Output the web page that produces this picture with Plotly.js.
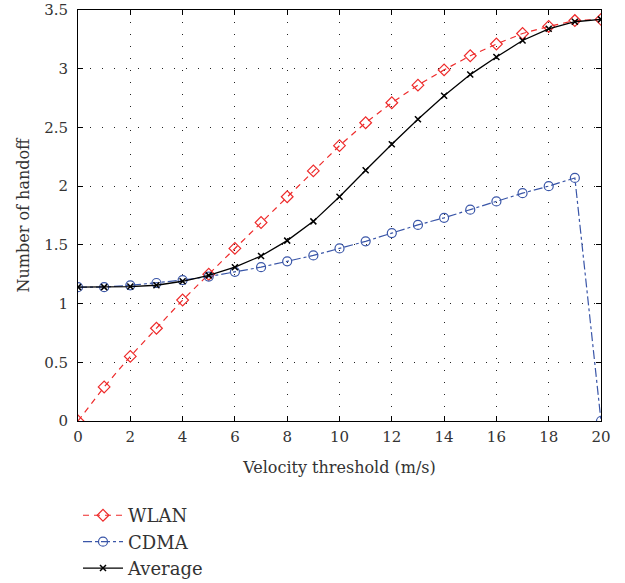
<!DOCTYPE html>
<html>
<head>
<meta charset="utf-8">
<script src="https://cdn.plot.ly/plotly-3.0.1.min.js"></script>
<style>body{margin:0;background:#fff}</style>
</head>
<body>
<div id="chart" style="width:625px;height:583px"></div>
<script>
const velocity = [0,1,2,3,4,5,6,7,8,9,10,11,12,13,14,15,16,17,18,19,20];
const wlan = [0,0.29,0.55,0.79,1.03,1.25,1.47,1.69,1.91,2.13,2.345,2.54,2.71,2.86,2.99,3.11,3.21,3.30,3.36,3.41,3.42];
const cdma = [1.14,1.14,1.155,1.175,1.20,1.23,1.27,1.31,1.36,1.41,1.47,1.53,1.60,1.67,1.73,1.80,1.87,1.94,2.00,2.07,0];
const average = [1.14,1.14,1.145,1.156,1.19,1.24,1.31,1.405,1.536,1.70,1.91,2.135,2.357,2.57,2.77,2.95,3.10,3.24,3.34,3.40,3.42];
const xTicks = [0,2,4,6,8,10,12,14,16,18,20];
const yTicks = [0,0.5,1,1.5,2,2.5,3,3.5];
const yTickText = ['0','0.5','1','1.5','2','2.5','3','3.5'];

const fam = 'DejaVu Serif, serif';
const txt = '#333';

const traces = [
  {x: velocity, y: wlan, name: 'WLAN', mode: 'lines+markers',
   line: {color: '#ee2a2a', width: 1.2, dash: '6px,5px'},
   marker: {symbol: 'diamond-open', size: 9, color: '#ee2a2a', line: {width: 1.2}}},
  {x: velocity, y: cdma, name: 'CDMA', mode: 'lines+markers',
   line: {color: '#3a56a8', width: 1.2, dash: 'dashdot'},
   marker: {symbol: 'circle-open', size: 9, color: '#3a56a8', line: {width: 1.2}}},
  {x: velocity, y: average, name: 'Average', mode: 'lines+markers',
   line: {color: '#000', width: 1.3},
   marker: {symbol: 'x-thin-open', size: 6, color: '#000', line: {width: 1.5, color: '#000'}}}
];

const layout = {
  width: 625, height: 583,
  margin: {l: 78, r: 24, t: 10, b: 162, autoexpand: false},
  paper_bgcolor: '#fff', plot_bgcolor: '#fff',
  font: {family: fam, size: 15, color: txt},
  showlegend: true,
  legend: {x: 0, xanchor: 'left', y: -0.185, yanchor: 'top', font: {family: fam, size: 18, color: txt},
           bgcolor: 'rgba(0,0,0,0)', tracegroupgap: 0, itemwidth: 40},
  xaxis: {range: [0, 20], tickvals: xTicks, ticks: 'inside', ticklen: 5, tickcolor: '#000',
          showline: true, linecolor: '#000', linewidth: 1, mirror: 'ticks',
          showgrid: true, gridcolor: '#222', griddash: '1px,11px', gridwidth: 1, zeroline: false,
          ticklabelstandoff: 2,
          title: {text: 'Velocity threshold (m/s)', font: {family: fam, size: 16, color: txt}, standoff: 16},
          tickfont: {family: fam, size: 15, color: txt}},
  yaxis: {range: [0, 3.5], tickvals: yTicks, ticktext: yTickText, ticks: 'inside', ticklen: 5, tickcolor: '#000',
          showline: true, linecolor: '#000', linewidth: 1, mirror: 'ticks',
          showgrid: true, gridcolor: '#222', griddash: '1px,11px', gridwidth: 1, zeroline: false,
          ticklabelstandoff: 6,
          title: {text: 'Number of handoff', font: {family: fam, size: 16, color: txt}, standoff: 10},
          tickfont: {family: fam, size: 15, color: txt}}
};

Plotly.newPlot('chart', traces, layout, {displayModeBar: false, staticPlot: true});
</script>
</body>
</html>
